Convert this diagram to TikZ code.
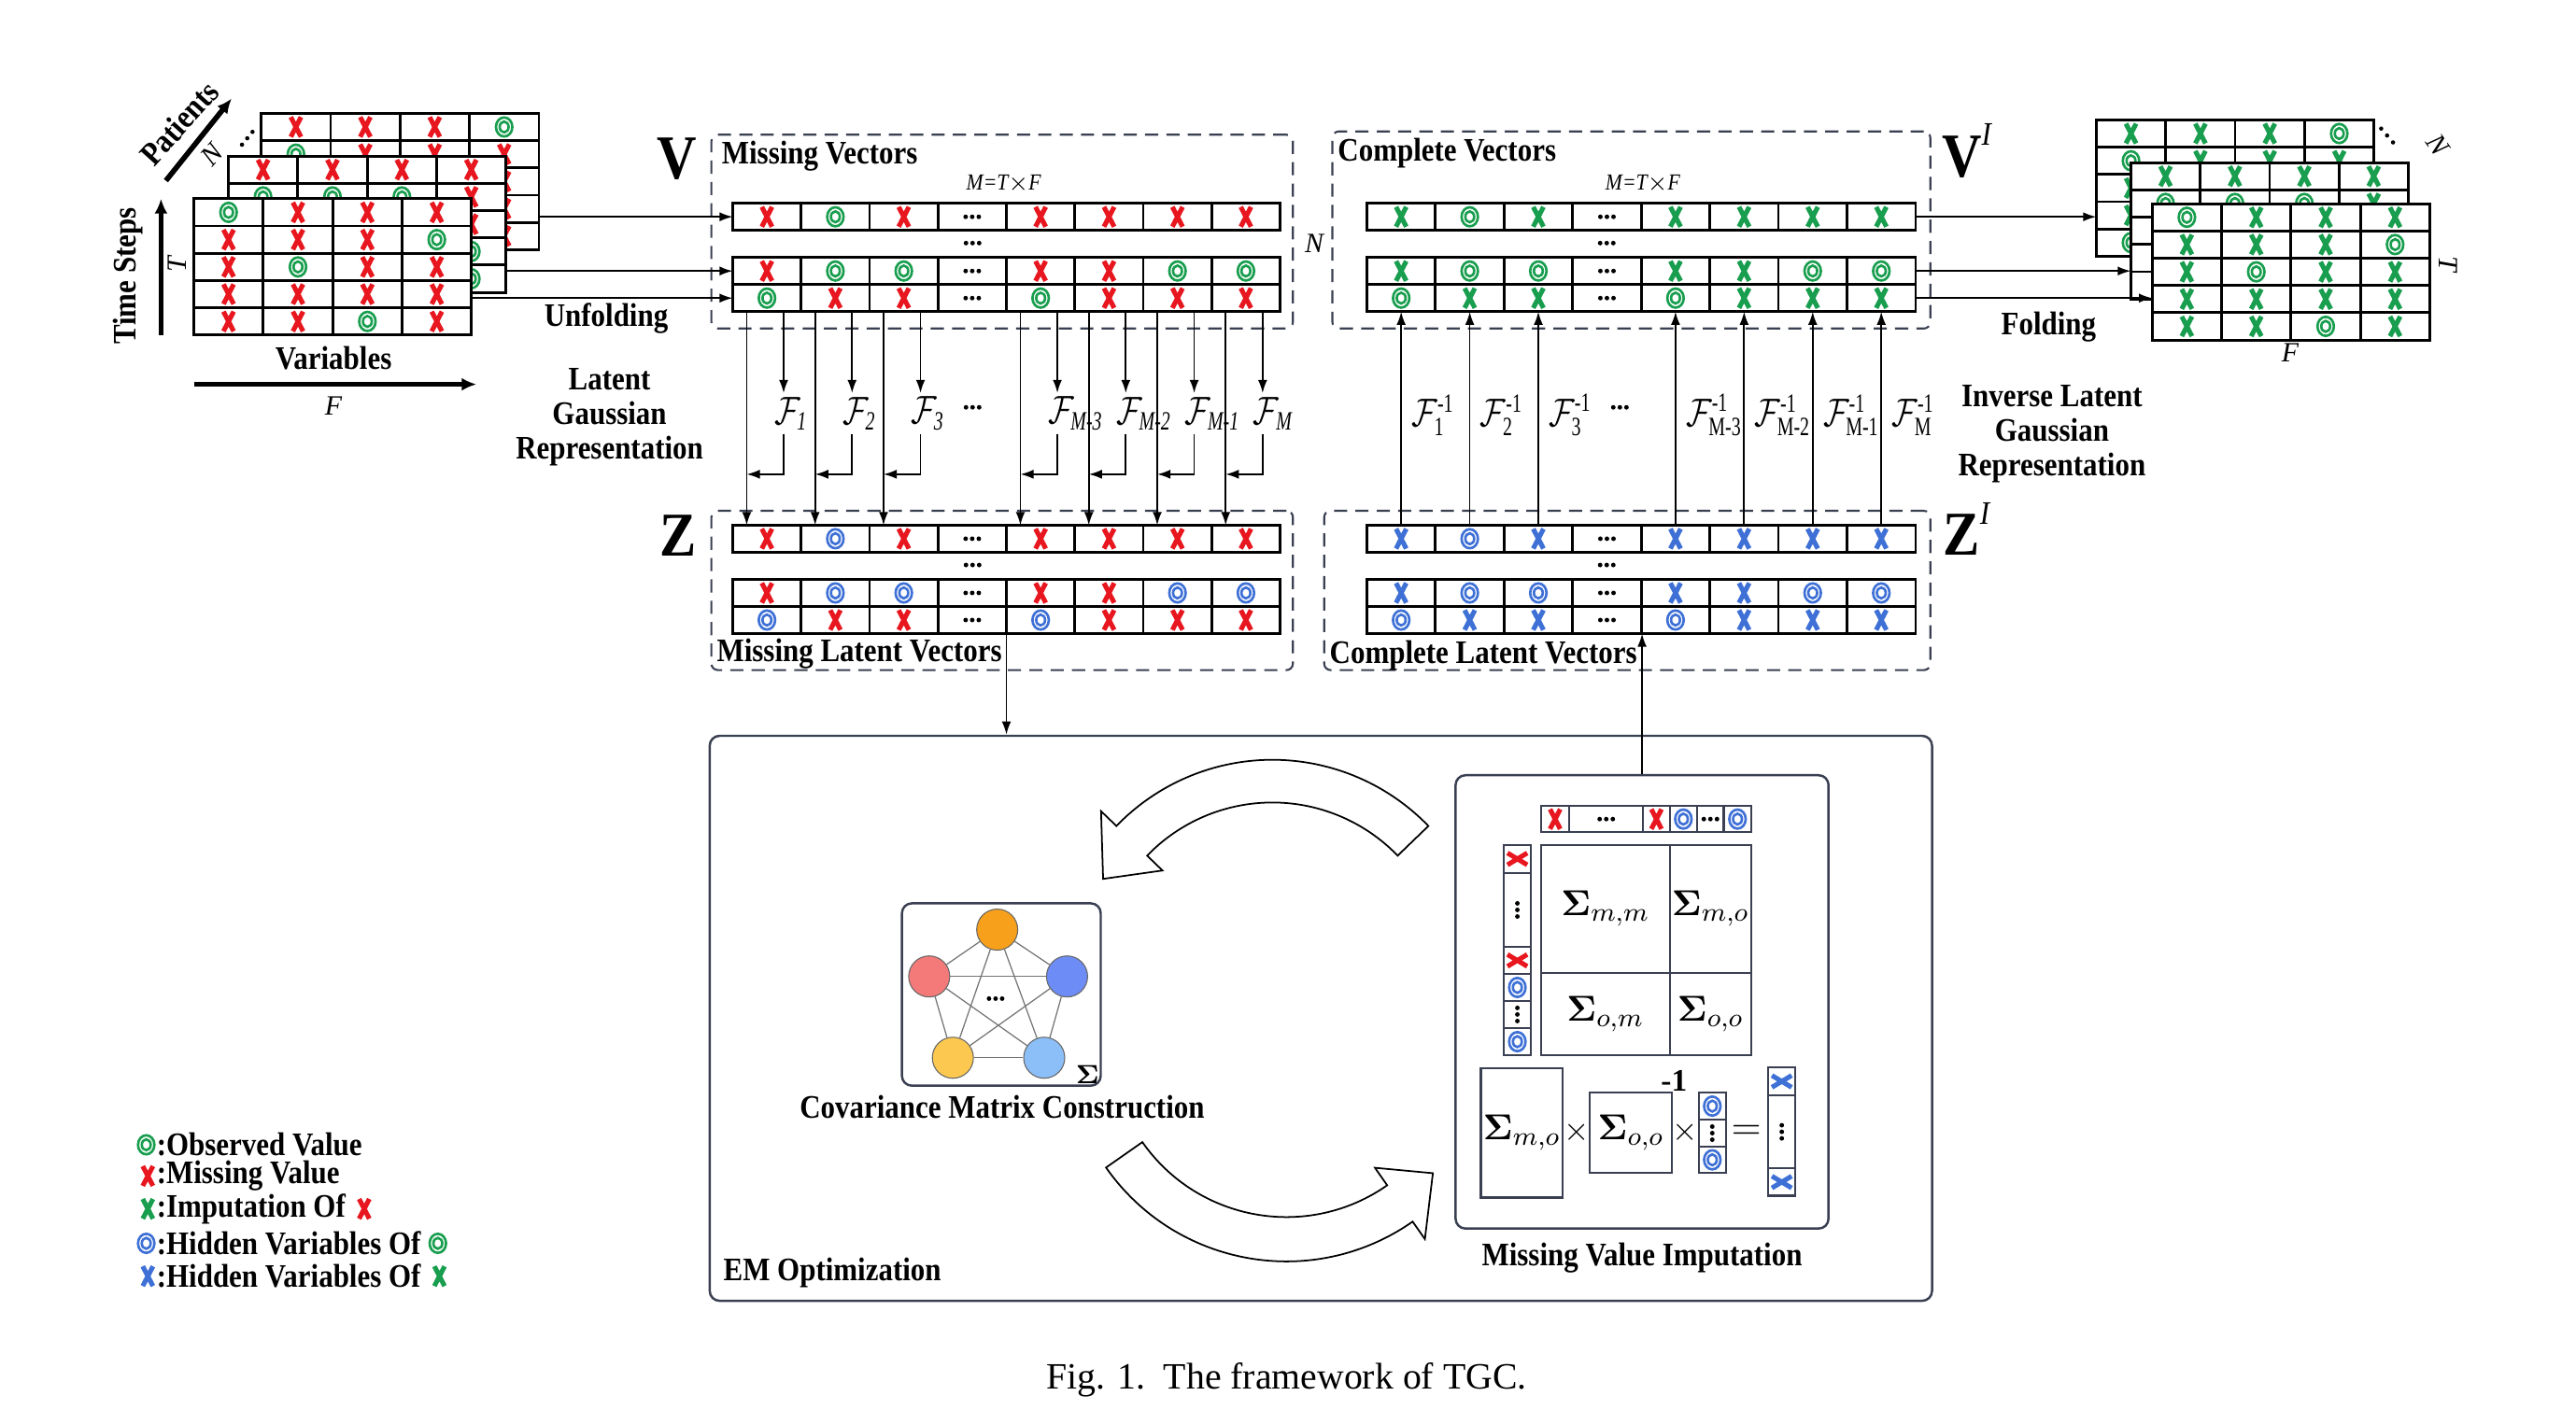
\documentclass[tikz,border=0pt]{standalone}
\usepackage{amsmath, amssymb, bm}
\usepackage{fontspec}
\setmainfont{Liberation Serif}
\newfontfamily\condfont[FakeStretch=0.88]{Liberation Serif}
\usepackage{tikz}
\usetikzlibrary{calc, arrows.meta}

% marks inside the cells
\newcommand{\markx}[2]{\draw[xmark,#1,shift={(#2)}] (-3.1,-6) -- (3.1,6) (-3.1,6) -- (3.1,-6);}
\newcommand{\markwx}[2]{\draw[xmark,#1,shift={(#2)}] (-6,-3.6) -- (6,3.6) (-6,3.6) -- (6,-3.6);}
\newcommand{\marko}[2]{\draw[omark,#1,shift={(#2)}] (0,0) ellipse (5 and 5.8) (0,0) ellipse (2.7 and 3.3);}
\newcommand{\markdots}[1]{\fill[shift={(#1)}] (-4,0) circle (1.4) (0,0) circle (1.4) (4,0) circle (1.4);}
\newcommand{\markvdots}[1]{\fill[shift={(#1)}] (0,-4) circle (1.4) (0,0) circle (1.4) (0,4) circle (1.4);}
\newcommand{\mkxr}[1]{\markx{missred}{#1}}
\newcommand{\mkxg}[1]{\markx{obsgreen}{#1}}
\newcommand{\mkxb}[1]{\markx{hidblue}{#1}}
\newcommand{\mkwr}[1]{\markwx{missred}{#1}}
\newcommand{\mkwb}[1]{\markwx{hidblue}{#1}}
\newcommand{\mkog}[1]{\marko{obsgreen}{#1}}
\newcommand{\mkob}[1]{\marko{hidblue}{#1}}
\newcommand{\mkdd}[1]{\markdots{#1}}
\newcommand{\mkvd}[1]{\markvdots{#1}}

% one row of a vector: name, left x, centre y, cell width, marks
\newcommand{\vecrow}[5]{%
	\foreach \m [count=\i] in {#5}{
		\node[vcell, minimum width=#4*0.5pt] (#1-\i) at ({#2+(\i-0.5)*#4}, #3) {};
		\csname mk\m\endcsname{#1-\i}
	}}

% a 5x4 data sheet: name, left x, top y, marks row by row
\newcommand{\datagrid}[4]{%
	\foreach \m [count=\k from 0] in {#4}{
		\pgfmathtruncatemacro{\gr}{\k/4}
		\pgfmathtruncatemacro{\gc}{\k-4*\gr}
		\node[gcell] (#1-\k) at ({#2+(\gc+0.5)*42.25}, {#3+(\gr+0.5)*16.6}) {};
		\csname mk\m\endcsname{#1-\k}
	}}

\begin{document}
\begin{tikzpicture}
		[x=0.5pt, y=-0.5pt,
		%Styles
		vcell/.style={draw, line width=0.8pt, fill=white, minimum height=8.25pt, inner sep=0pt, outer sep=0pt},
		gcell/.style={vcell, minimum width=21.125pt, minimum height=8.3pt},
		icell/.style={draw=framecol, line width=0.6pt, fill=white, inner sep=0pt, outer sep=0pt},
		xmark/.style={line width=1.45pt, line cap=butt},
		omark/.style={line width=0.75pt},
		dashbox/.style={draw=framecol, dash pattern=on 4pt off 2.5pt, line width=0.6pt, rounded corners=2pt, inner sep=0pt},
		panel/.style={draw=framecol, line width=0.7pt, rounded corners=3pt, inner sep=0pt},
		lbl/.style={font=\condfont\bfseries\fontsize{10}{10.5}\selectfont, inner sep=0pt},
		small/.style={font=\condfont\itshape\fontsize{7}{8}\selectfont, inner sep=0pt},
		bigletter/.style={font=\condfont\bfseries\fontsize{19}{20}\selectfont, inner sep=0pt},
		flabel/.style={font=\fontsize{11.5}{13}\selectfont, inner sep=1pt},
		sigma/.style={icell, font=\fontsize{11}{13}\selectfont},
		cnode/.style={circle, draw=black!60, line width=0.3pt, minimum size=12.5pt, inner sep=0pt},
		gedge/.style={draw=black!55, line width=0.35pt},
		arr/.style={-{Latex[length=4pt,width=2.8pt]}, line width=0.5pt},
		thickarr/.style={-{Latex[length=4.5pt,width=4pt]}, line width=1.6pt},
		curve arrow/.style={fill=white, draw=black, line width=0.5pt, line join=miter}
		]

		%Colors
		\definecolor{missred}{RGB}{232,22,30}
		\definecolor{obsgreen}{RGB}{24,158,78}
		\definecolor{hidblue}{RGB}{62,112,214}
		\definecolor{framecol}{RGB}{58,64,82}
		\definecolor{nodeorange}{RGB}{246,160,28}
		\definecolor{nodered}{RGB}{244,122,122}
		\definecolor{nodeblue}{RGB}{110,140,245}
		\definecolor{nodeyellow}{RGB}{252,200,80}
		\definecolor{nodesky}{RGB}{140,190,248}

		\useasboundingbox (0,0) rectangle (1568,867);

		%Dashed frames
		\node[dashbox, minimum width=177pt, minimum height=59pt] (vbox) at (610,141) {};
		\node[dashbox, minimum width=182pt, minimum height=60pt] (vibox) at (993,140) {};
		\node[dashbox, minimum width=177pt, minimum height=48.5pt] (zbox) at (610,359.5) {};
		\node[dashbox, minimum width=184.5pt, minimum height=48.5pt] (zibox) at (990.5,359.5) {};

		%Input sheets
		\datagrid{gLb}{159}{69}{xr,xr,xr,og,og,xr,xr,xr,xr,xr,xr,xr,xr,xr,xr,xr,xr,xr,xr,xr}
		\datagrid{gLm}{139}{95}{xr,xr,xr,xr,og,og,og,xr,xr,xr,xr,xr,xr,xr,xr,og,xr,xr,xr,og}
		\datagrid{gLf}{118}{121}{og,xr,xr,xr,xr,xr,xr,og,xr,og,xr,xr,xr,xr,xr,xr,xr,xr,og,xr}

		%Output sheets
		\datagrid{gRb}{1276}{73}{xg,xg,xg,og,og,xg,xg,xg,xg,xg,xg,xg,xg,xg,xg,xg,og,xg,xg,xg}
		\datagrid{gRm}{1297}{99}{xg,xg,xg,xg,og,og,og,xg,xg,xg,xg,xg,xg,xg,xg,xg,xg,xg,xg,xg}
		\datagrid{gRf}{1310}{124}{og,xg,xg,xg,xg,xg,xg,og,xg,og,xg,xg,xg,xg,xg,xg,xg,xg,og,xg}

		%Vectors
		\vecrow{V1}{446}{132}{41.65}{xr,og,xr,dd,xr,xr,xr,xr}
		\vecrow{V2}{446}{165}{41.65}{xr,og,og,dd,xr,xr,og,og}
		\vecrow{V3}{446}{181.5}{41.65}{og,xr,xr,dd,og,xr,xr,xr}
		\vecrow{VI1}{832}{132}{41.75}{xg,og,xg,dd,xg,xg,xg,xg}
		\vecrow{VI2}{832}{165}{41.75}{xg,og,og,dd,xg,xg,og,og}
		\vecrow{VI3}{832}{181.5}{41.75}{og,xg,xg,dd,og,xg,xg,xg}
		\vecrow{Z1}{446}{328}{41.65}{xr,ob,xr,dd,xr,xr,xr,xr}
		\vecrow{Z2}{446}{361}{41.65}{xr,ob,ob,dd,xr,xr,ob,ob}
		\vecrow{Z3}{446}{377.5}{41.65}{ob,xr,xr,dd,ob,xr,xr,xr}
		\vecrow{ZI1}{832}{328}{41.75}{xb,ob,xb,dd,xb,xb,xb,xb}
		\vecrow{ZI2}{832}{361}{41.75}{xb,ob,ob,dd,xb,xb,ob,ob}
		\vecrow{ZI3}{832}{377.5}{41.75}{ob,xb,xb,dd,ob,xb,xb,xb}

		\coordinate (vgap) at (592,148); \mkdd{vgap}
		\coordinate (vigap) at (978,148); \mkdd{vigap}
		\coordinate (zgap) at (592,344); \mkdd{zgap}
		\coordinate (zigap) at (978,344); \mkdd{zigap}
		\coordinate (fgap) at (592,248); \mkdd{fgap}
		\coordinate (figap) at (986,248); \mkdd{figap}

		%Frame labels
		\node[lbl, anchor=west] (mvlbl) at (439,95) {Missing Vectors};
		\node[lbl, anchor=west] (cvlbl) at (814,93) {Complete Vectors};
		\node[lbl, anchor=west] (mlvlbl) at (436,398) {Missing Latent Vectors};
		\node[lbl, anchor=west] (clvlbl) at (809,399) {Complete Latent Vectors};
		\node[small] (msize) at (611,112) {M=T$\times$F};
		\node[small] (misize) at (1000,112) {M=T$\times$F};
		\node[small, font=\itshape\fontsize{8.5}{9}\selectfont] (nsize) at (800,148) {N};
		\node[bigletter] (vlet) at (412,97) {V};
		\node[bigletter] (vilet) at (1197,92) {V\raisebox{1.1ex}{\fontsize{10}{10}\selectfont\mdseries\itshape I}};
		\node[bigletter] (zlet) at (413,326) {Z};
		\node[bigletter] (zilet) at (1197,322) {Z\raisebox{1.1ex}{\fontsize{10}{10}\selectfont\mdseries\itshape I}};

		%Sheet axes
		\coordinate (pa0) at (101,110);
		\coordinate (pa1) at (141,60);
		\draw[thickarr] (pa0) -- (pa1);
		\node[lbl, rotate=48] (patients) at (109,75) {Patients};
		\node[small, font=\itshape\fontsize{8.5}{9}\selectfont, rotate=48] (nlbl) at (129,94) {N};
		\coordinate (pdots) at (150.5,84.2);
		\fill[shift={(pdots)}] (-3.2,3.9) circle (1.3) (0,0) circle (1.3) (3.2,-3.9) circle (1.3);
		\coordinate (ta0) at (98,204);
		\coordinate (ta1) at (98,121);
		\draw[thickarr] (ta0) -- (ta1);
		\node[lbl, rotate=90] (tsteps) at (78,168) {Time Steps};
		\node[small, font=\itshape\fontsize{8.5}{9}\selectfont, rotate=90] (tlbl) at (108,161) {T};
		\coordinate (fa0) at (118,234);
		\coordinate (fa1) at (290,234);
		\draw[thickarr] (fa0) -- (fa1);
		\node[lbl] (vars) at (203,218) {Variables};
		\node[small, font=\itshape\fontsize{8.5}{9}\selectfont] (flbl) at (203,247) {F};

		\node[small, font=\itshape\fontsize{8.5}{9}\selectfont, rotate=-55] (nrlbl) at (1484,88) {N};
		\node[small, font=\itshape\fontsize{8.5}{9}\selectfont, rotate=-90] (trlbl) at (1490,161) {T};
		\node[small, font=\itshape\fontsize{8.5}{9}\selectfont] (frlbl) at (1394,215) {F};
		\coordinate (rdots) at (1453,82.5);
		\fill[shift={(rdots)}] (-3.6,-4.2) circle (1.3) (0,0) circle (1.3) (3.6,4.2) circle (1.3);

		%Unfolding and folding
		\draw[arr] (V1-1.west -| gLb-3.east) -- (V1-1.west);
		\draw[arr] (V2-1.west -| gLm-3.east) -- (V2-1.west);
		\draw[arr] (V3-1.west -| gLf-3.east) -- (V3-1.west);
		\draw[arr] (VI1-8.east) -- (VI1-8.east -| gRb-0.west);
		\draw[arr] (VI2-8.east) -- (VI2-8.east -| gRm-0.west);
		\draw[arr] (VI3-8.east) -- (VI3-8.east -| gRf-0.west);
		\node[lbl] (unfold) at (369,194) {Unfolding};
		\node[lbl] (fold) at (1247,199) {Folding};

		%Latent Gaussian representation
		\foreach \i/\s in {1/1,2/2,3/3,5/M-3,6/M-2,7/M-1,8/M}{
			\coordinate (a\i) at ($(V3-\i.south west)+(8.5,0)$);
			\coordinate (b\i) at ($(V3-\i.south west)+(31,0)$);
			\node[flabel, anchor=west] (F\i) at ($(b\i)+(-8,62)$) {\scalebox{0.8}[1]{$\mathcal{F}_{\text{\condfont\itshape\s}}$}};
			\draw[arr] (a\i) -- (a\i |- Z1-\i.north);
			\draw[arr] (b\i) -- (b\i |- F\i.north);
			\draw[arr] (b\i |- F\i.south) |- ($(a\i)+(0,99)$);
		}
		\node[lbl, align=center] (lgr) at (371,254) {Latent\\Gaussian\\Representation};

		\foreach \i/\s in {1/1,2/2,3/3,5/M-3,6/M-2,7/M-1,8/M}{
			\draw[arr] (ZI1-\i.north) -- (VI3-\i.south);
			\node[flabel, anchor=west] (Fi\i) at ($(VI3-\i.south)+(4,63)$) {\scalebox{0.8}[1]{$\mathcal{F}^{\text{\condfont -1}}_{\text{\condfont\s}}$}};
		}
		\node[lbl, align=center] (ilgr) at (1249,264) {Inverse Latent\\Gaussian\\Representation};

		%EM optimization
		\node[panel, minimum width=372pt, minimum height=172pt] (em) at (804,620) {};
		\node[lbl, anchor=west] (emlbl) at (440,775) {EM Optimization};
		\draw[arr] (Z3-4.south east) -- (Z3-4.south east |- em.north);

		\node[panel, minimum width=60.5pt, minimum height=55.5pt] (cov) at (609.5,605.5) {};
		\node[cnode, fill=nodeorange] (n1) at (607,566) {};
		\node[cnode, fill=nodered] (n2) at (565.6,594.5) {};
		\node[cnode, fill=nodeblue] (n3) at (649.5,594.5) {};
		\node[cnode, fill=nodeyellow] (n4) at (580,644) {};
		\node[cnode, fill=nodesky] (n5) at (635.6,644) {};
		\path[gedge]
			(n1) edge (n2) edge (n3) edge (n4) edge (n5)
			(n2) edge (n3) edge (n4) edge (n5)
			(n3) edge (n4) edge (n5)
			(n4) edge (n5);
		\coordinate (cdots) at (606,608); \mkdd{cdots}
		\node[font=\fontsize{8}{8}\selectfont, inner sep=0pt] (csig) at (662,654) {$\bm{\Sigma}$};
		\node[lbl] (covlbl) at (610,674) {Covariance Matrix Construction};

		\filldraw[curve arrow, shift={(774.5,594.6)}] (-44:132) arc[start angle=-44, end angle=-136, radius=132]
			-- (-136:145) -- (-150:119) -- (-136:93) -- (-136:106) arc[start angle=-136, end angle=-44, radius=106] -- cycle;
		\filldraw[curve arrow, shift={(783,634)}] (-215:134) arc[start angle=-215, end angle=-305, radius=134]
			-- (-305:147) -- (-318:120) -- (-305:94) -- (-305:107) arc[start angle=-305, end angle=-215, radius=107] -- cycle;

		%Missing value imputation
		\node[panel, minimum width=113.5pt, minimum height=138pt] (mvi) at (999.5,610) {};
		\draw[arr] (mvi.north) -- (mvi.north |- ZI3-4.south);
		\node[lbl] (mvilbl) at (999.5,766) {Missing Value Imputation};

		\foreach \cx/\cw/\m [count=\i] in {946.6/17.2/xr,977.7/45/dd,1008.25/16.1/xr,1024.65/16.7/ob,1041.1/16.2/dd,1057.6/16.8/ob}{
			\node[icell, minimum width=\cw*0.5pt, minimum height=8.1pt] (top-\i) at (\cx,498.7) {};
			\csname mk\m\endcsname{top-\i}
		}
		\foreach \cy/\ch/\m [count=\i] in {522.95/17.3/wr,554/44.8/vd,584.75/16.7/wr,601.2/16.2/ob,617.65/16.7/vd,634.2/16.4/ob}{
			\node[icell, minimum width=8.1pt, minimum height=\ch*0.5pt] (side-\i) at (923.6,\cy) {};
			\csname mk\m\endcsname{side-\i}
		}
		\node[sigma, minimum width=39.15pt, minimum height=39.1pt] (smm) at (977.15,553.4) {$\bm{\Sigma}_{m,m}$};
		\node[sigma, minimum width=24.85pt, minimum height=39.1pt] (smo) at (1041.15,553.4) {$\bm{\Sigma}_{m,o}$};
		\node[sigma, minimum width=39.15pt, minimum height=24.95pt] (som) at (977.15,617.45) {$\bm{\Sigma}_{o,m}$};
		\node[sigma, minimum width=24.85pt, minimum height=24.95pt] (soo) at (1041.15,617.45) {$\bm{\Sigma}_{o,o}$};

		\node[sigma, minimum width=24.95pt, minimum height=39.3pt] (bmo) at (926.35,689.8) {$\bm{\Sigma}_{m,o}$};
		\node[inner sep=0pt] (tim1) at (959.5,689.5) {$\times$};
		\node[sigma, minimum width=25pt, minimum height=24.6pt] (boo) at (992.7,689.7) {$\bm{\Sigma}_{o,o}$};
		\node[inner sep=0pt, font=\bfseries\fontsize{9.5}{10}\selectfont] (inv) at (1019,658) {-1};
		\node[inner sep=0pt] (tim2) at (1025.8,689.5) {$\times$};
		\foreach \cy/\ch/\m [count=\i] in {673.45/16.7/ob,689.9/16.2/vd,706.15/16.3/ob}{
			\node[icell, minimum width=8.35pt, minimum height=\ch*0.5pt] (obs-\i) at (1042.25,\cy) {};
			\csname mk\m\endcsname{obs-\i}
		}
		\node[inner sep=0pt, font=\fontsize{12}{12}\selectfont] (eq) at (1063,689.5) {$=$};
		\foreach \cy/\ch/\m [count=\i] in {658.4/16.8/wb,689.1/44.6/vd,719.7/16.6/wb}{
			\node[icell, minimum width=8.15pt, minimum height=\ch*0.5pt] (res-\i) at (1084.55,\cy) {};
			\csname mk\m\endcsname{res-\i}
		}

		%Legend
		\coordinate (ls1) at (89,697); \mkog{ls1}
		\node[lbl, anchor=west] (lg1) at (95,697) {:Observed Value};
		\coordinate (ls2) at (90,716); \mkxr{ls2}
		\node[lbl, anchor=west] (lg2) at (95,716) {:Missing Value};
		\coordinate (ls3) at (90,736); \mkxg{ls3}
		\node[lbl, anchor=west] (lg3) at (95,736) {:Imputation Of};
		\coordinate (le3) at ($(lg3.east)+(11,0)$); \mkxr{le3}
		\coordinate (ls4) at (89,757); \mkob{ls4}
		\node[lbl, anchor=west] (lg4) at (95,757) {:Hidden Variables Of};
		\coordinate (le4) at ($(lg4.east)+(10,0)$); \mkog{le4}
		\coordinate (ls5) at (90,777); \mkxb{ls5}
		\node[lbl, anchor=west] (lg5) at (95,777) {:Hidden Variables Of};
		\coordinate (le5) at ($(lg5.east)+(11,0)$); \mkxg{le5}

		\node[font=\fontsize{11.3}{13}\selectfont, inner sep=0pt] (cap) at (783,840) {Fig. 1.\ \ The framework of TGC.};
	\end{tikzpicture}
\end{document}
